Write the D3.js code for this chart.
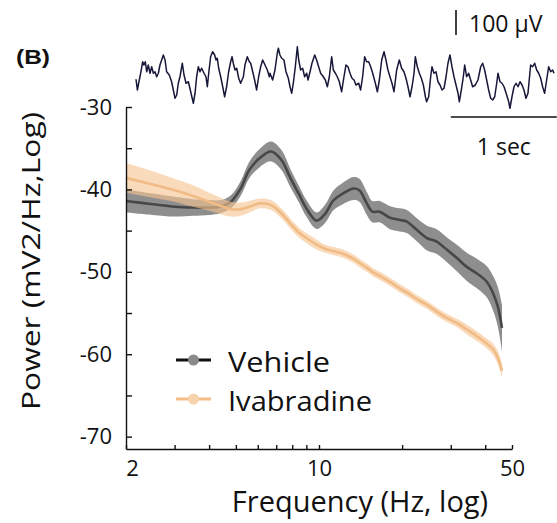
<!DOCTYPE html>
<html>
<head>
<meta charset="utf-8">
<script src="https://cdn.jsdelivr.net/npm/d3@7"></script>
<style>
  body { margin: 0; background: #fff; }
  svg { display: block; }
</style>
</head>
<body>
<div id="chart"></div>
<script>
// power spectrum (dB-like log power) per frequency
const freqs = [2, 2.5, 3, 3.5, 4, 4.4, 4.8, 5.2, 5.6, 6.1, 6.7, 7.3, 7.9, 8.5, 9, 9.8, 10.5, 11.3, 12.2, 13.3, 14, 14.9, 15.6, 16.6, 18, 19.6, 20.8, 22.6, 24.6, 26.6, 29, 31.5, 34.3, 37.3, 40.5, 42.7, 44.4, 46];
const vehicleMean = [-41.4, -41.8, -42.1, -42.2, -42.2, -42.1, -41.5, -39.9, -37.6, -36.2, -35.4, -36.4, -38.7, -40.7, -42.3, -43.8, -43.0, -41.3, -40.5, -39.9, -40.1, -41.7, -42.7, -42.7, -43.4, -43.7, -43.9, -44.9, -45.9, -46.3, -47.3, -48.3, -49.4, -50.2, -51.2, -52.6, -54.2, -56.8];
const vehicleSem = [1.4, 1.3, 1.2, 1.0, 0.9, 0.8, 0.8, 0.9, 1.0, 1.1, 1.2, 1.2, 1.1, 1.0, 1.0, 1.0, 1.1, 1.2, 1.3, 1.4, 1.4, 1.4, 1.3, 1.3, 1.4, 1.4, 1.4, 1.4, 1.5, 1.5, 1.5, 1.6, 1.7, 1.8, 1.9, 2.1, 2.4, 2.8];
const ivabMean = [-38.6, -39.4, -40.1, -40.8, -41.5, -42.0, -42.4, -42.4, -42.1, -41.7, -41.9, -42.9, -44.2, -45.3, -45.9, -46.7, -47.2, -47.5, -47.8, -48.4, -48.9, -49.5, -50.0, -50.5, -51.2, -52.0, -52.5, -53.3, -54.0, -54.8, -55.6, -56.2, -57.0, -57.8, -58.7, -59.4, -60.4, -62.0];
const ivabSem = [1.8, 1.6, 1.4, 1.3, 1.1, 1.0, 0.9, 0.8, 0.7, 0.6, 0.6, 0.6, 0.6, 0.6, 0.6, 0.6, 0.5, 0.5, 0.5, 0.5, 0.5, 0.5, 0.5, 0.5, 0.5, 0.5, 0.5, 0.5, 0.5, 0.5, 0.5, 0.5, 0.6, 0.6, 0.6, 0.7, 0.8, 0.9];

const seriesNames = ["Vehicle", "Ivabradine"];
const xTicks = [2, 3, 4, 5, 6, 7, 8, 9, 10, 20, 30, 40, 50];
const xTickLabels = [2, 10, 50];
const yTicks = [-70, -65, -60, -55, -50, -45, -40, -35, -30];

// example EEG trace: [time (s), amplitude (µV)]
const eegTrace = [
  [0,-17],[.013,-60],[.031,-20],[.044,7],[.063,53],[.075,40],[.088,53],[.101,13],[.116,40],[.132,7],[.148,33],[.164,7],[.179,13],[.195,-7],[.211,7],[.226,40],[.258,80],[.274,60],[.289,13],[.314,0],[.336,-27],[.352,-60],[.368,-93],[.384,-80],[.399,-33],[.415,-7],[.437,47],[.453,0],[.472,-33],[.494,-27],[.516,-67],[.541,-113],[.557,-73],[.572,-7],[.588,33],[.604,13],[.619,27],[.642,7],[.660,-7],[.673,-47],[.686,7],[.704,73],[.723,93],[.742,80],[.755,60],[.767,67],[.780,27],[.799,-7],[.818,-47],[.836,-87],[.855,-47],[.874,13],[.893,53],[.906,73],[.918,47],[.934,20],[.950,27],[.969,-13],[.987,-33],[1.013,-7],[1.028,40],[1.050,73],[1.069,53],[1.082,47],[1.101,13],[1.119,-20],[1.138,-60],[1.157,-7],[1.176,33],[1.195,60],[1.217,40],[1.239,20],[1.258,-7],
  [1.264,7],[1.289,-20],[1.311,20],[1.333,87],[1.343,107],[1.358,80],[1.374,67],[1.396,60],[1.415,13],[1.437,-13],[1.453,-47],[1.469,-73],[1.484,-33],[1.503,33],[1.522,113],[1.535,60],[1.553,20],[1.572,27],[1.591,-7],[1.610,7],[1.623,-20],[1.642,13],[1.660,47],[1.686,80],[1.704,60],[1.723,33],[1.742,7],[1.767,-7],[1.786,-20],[1.805,-47],[1.824,-7],[1.846,73],[1.862,20],[1.881,7],[1.899,-7],[1.918,-27],[1.940,-67],[1.962,-7],[1.981,40],[2.000,33],[2.019,7],[2.038,-13],[2.057,-20],[2.075,-40],[2.101,-33],[2.119,-60],[2.138,-7],[2.157,73],[2.176,53],[2.195,53],[2.214,33],[2.233,7],[2.258,-33],[2.277,-67],[2.296,-20],[2.318,60],[2.340,93],[2.358,60],[2.377,20],[2.396,-7],[2.415,-33],[2.434,-67],[2.459,20],[2.484,60],[2.506,27],[2.528,13],[2.547,-13],[2.566,-47],[2.585,-87],[2.604,-47],[2.623,7],
  [2.635,73],[2.654,33],[2.673,7],[2.692,-13],[2.711,-40],[2.730,-87],[2.742,-107],[2.761,-87],[2.780,-7],[2.792,33],[2.811,7],[2.830,13],[2.849,-27],[2.868,-40],[2.887,-60],[2.906,-53],[2.925,-7],[2.943,47],[2.962,80],[2.981,33],[3.000,-7],[3.019,-40],[3.038,-73],[3.050,-107],[3.069,-60],[3.088,-7],[3.101,40],[3.119,-7],[3.138,7],[3.157,-20],[3.176,-47],[3.201,-40],[3.226,-20],[3.252,33],[3.270,47],[3.289,20],[3.308,-20],[3.327,-60],[3.346,-93],[3.365,-100],[3.384,-87],[3.403,-33],[3.415,7],[3.434,-27],[3.453,-33],[3.472,-47],[3.497,-80],[3.516,-107],[3.528,-133],[3.547,-87],[3.566,-47],[3.585,-33],[3.604,-47],[3.623,-27],[3.642,-40],[3.660,-60],[3.679,-93],[3.698,-73],[3.723,40],[3.742,33],[3.761,47],[3.780,20],[3.799,7],[3.818,-13],[3.836,-47],[3.855,-73],[3.874,-20],[3.893,33],[3.912,13],[3.931,20],[3.943,7]
];

const width = 557;
const height = 523;
const font = "'Open Sans', 'Noto Sans', sans-serif";

const svg = d3
  .select("#chart")
  .append("svg")
  .attr("width", width)
  .attr("height", height);

// scales for the spectrum panel
const x = d3.scaleLog().domain([2, 50]).range([126, 512]);
const y = d3.scaleLinear().domain([-71.5, -30]).range([449, 107]);

const series = [
  { name: seriesNames[0], mean: vehicleMean, sem: vehicleSem, band: "#7a7a7a", bandOpacity: 0.85, line: "#474747", legendLine: "#111", dot: "#8a8a8a" },
  { name: seriesNames[1], mean: ivabMean, sem: ivabSem, band: "#f5c48f", bandOpacity: 0.62, line: "#f1bb85", legendLine: "#f3bd88", dot: "#f8d4ad" },
];

const area = d3
  .area()
  .curve(d3.curveCatmullRom)
  .x((d) => x(d.f))
  .y0((d) => y(d.m - d.s))
  .y1((d) => y(d.m + d.s));

const line = d3
  .line()
  .curve(d3.curveCatmullRom)
  .x((d) => x(d.f))
  .y((d) => y(d.m));

series.forEach((s) => {
  const pts = freqs.map((f, i) => ({ f, m: s.mean[i], s: s.sem[i] }));
  svg
    .append("path")
    .attr("d", area(pts))
    .attr("fill", s.band)
    .attr("fill-opacity", s.bandOpacity);
  svg
    .append("path")
    .attr("d", line(pts))
    .attr("fill", "none")
    .attr("stroke", s.line)
    .attr("stroke-width", 2.6);
});

// axes, ticks point inward
const yAxis = d3
  .axisLeft(y)
  .tickValues(yTicks)
  .tickSizeInner(-6)
  .tickSizeOuter(0)
  .tickPadding(14)
  .tickFormat((d) => (d % 10 === 0 ? d : ""));

const xAxis = d3
  .axisBottom(x)
  .tickValues(xTicks)
  .tickSizeInner(-4)
  .tickSizeOuter(0)
  .tickPadding(11)
  .tickFormat((d) => (xTickLabels.includes(d) ? d : ""));

const gy = svg.append("g").attr("transform", "translate(126,0)").call(yAxis);
const gx = svg.append("g").attr("transform", "translate(0,449)").call(xAxis);

[gx, gy].forEach((g) => {
  g.selectAll("path, line").attr("stroke", "#111").attr("stroke-width", 1.4);
  g.selectAll("text")
    .attr("fill", "#111")
    .style("font-family", font)
    .style("font-size", "22px");
});
gx.selectAll(".tick text").filter((d) => d === 2).attr("dx", 6);

// axis titles
svg
  .append("text")
  .attr("x", 360)
  .attr("y", 512)
  .attr("text-anchor", "middle")
  .style("font-family", font)
  .style("font-size", "29px")
  .attr("fill", "#111")
  .text("Frequency (Hz, log)");

svg
  .append("text")
  .attr("transform", "translate(40,261) rotate(-90)")
  .attr("text-anchor", "middle")
  .attr("textLength", 298)
  .attr("lengthAdjust", "spacingAndGlyphs")
  .style("font-family", font)
  .style("font-size", "26px")
  .attr("fill", "#111")
  .text("Power (mV2/Hz,Log)");

// legend
const legend = svg.append("g");
series.forEach((s, i) => {
  const ly = 360 + i * 39;
  legend
    .append("line")
    .attr("x1", 176)
    .attr("x2", 211)
    .attr("y1", ly)
    .attr("y2", ly)
    .attr("stroke", s.legendLine)
    .attr("stroke-width", 3);
  legend
    .append("circle")
    .attr("cx", 193.5)
    .attr("cy", ly)
    .attr("r", 5.5)
    .attr("fill", s.dot);
  legend
    .append("text")
    .attr("x", 228)
    .attr("y", ly + 12)
    .attr("textLength", i === 0 ? 102 : 144)
    .attr("lengthAdjust", "spacingAndGlyphs")
    .style("font-family", font)
    .style("font-size", "27px")
    .attr("fill", "#111")
    .text(s.name);
});

// panel label
svg
  .append("text")
  .attr("x", 16)
  .attr("y", 64)
  .attr("textLength", 34)
  .attr("lengthAdjust", "spacingAndGlyphs")
  .style("font-family", "'Liberation Sans', Arial, sans-serif")
  .style("font-weight", "bold")
  .style("font-size", "20px")
  .attr("fill", "#111")
  .text("(B)");

// raw EEG trace inset
const t = d3.scaleLinear().domain([0, 1]).range([136, 242]);
const v = d3.scaleLinear().domain([-100, 100]).range([100, 50]);

svg
  .append("path")
  .attr(
    "d",
    d3
      .line()
      .x((d) => t(d[0]))
      .y((d) => v(d[1]))(eegTrace)
  )
  .attr("fill", "none")
  .attr("stroke", "#17173a")
  .attr("stroke-width", 1.5)
  .attr("stroke-linejoin", "round");

// scale bars: 1 sec and 100 µV
const barY = 117;
svg
  .append("line")
  .attr("x1", t(2.97))
  .attr("x2", t(3.97))
  .attr("y1", barY)
  .attr("y2", barY)
  .attr("stroke", "#111")
  .attr("stroke-width", 1.6);
svg
  .append("text")
  .attr("x", (t(2.97) + t(3.97)) / 2)
  .attr("y", 155)
  .attr("text-anchor", "middle")
  .style("font-family", font)
  .style("font-size", "23px")
  .attr("fill", "#111")
  .text("1 sec");

const uvLen = v(0) - v(100);
svg
  .append("line")
  .attr("x1", 456)
  .attr("x2", 456)
  .attr("y1", 10)
  .attr("y2", 10 + uvLen)
  .attr("stroke", "#111")
  .attr("stroke-width", 1.6);
svg
  .append("text")
  .attr("x", 469)
  .attr("y", 32)
  .style("font-family", font)
  .style("font-size", "23px")
  .attr("fill", "#111")
  .text("100 µV");
</script>
</body>
</html>
